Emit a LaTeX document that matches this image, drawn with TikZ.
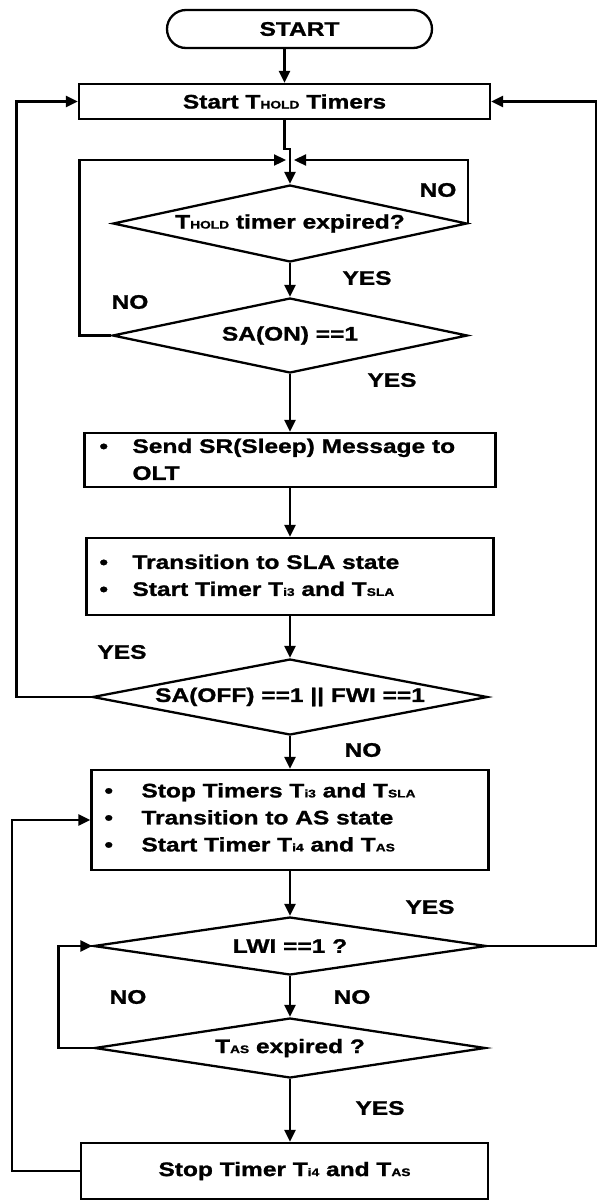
\documentclass[tikz,border=0pt]{standalone}
\usepackage{fontspec}
\setmainfont{Liberation Sans}[FakeStretch=1.25,FakeBold=1.2]
\usetikzlibrary{arrows.meta}
\usetikzlibrary{shapes.geometric}
\usetikzlibrary{positioning}

\newcommand{\sm}[1]{{\fontsize{11}{11}\selectfont #1}}
\tikzset{
  every node/.style={font=\bfseries\fontsize{19.6}{27}\selectfont},
  termin/.style={draw,rounded corners=19pt,inner sep=0pt},
  procbox/.style={draw,inner sep=0pt},
  decision/.style={draw,diamond,aspect=5,inner sep=0pt},
  yesno/.style={inner sep=0pt}
}

\begin{document}
\begin{tikzpicture}[line cap=butt,line join=miter,line width=2.3pt,>={Triangle[length=12pt,width=11pt]},x=1pt,y=-1pt]
\useasboundingbox (0,0) rectangle (598,1203);

\node[termin,minimum width=265pt,minimum height=38pt] (start) at (299.5,29) {START};
\node[procbox,minimum width=411pt,minimum height=35pt] (hold) at (284.5,101.5) {Start T\sm{HOLD} Timers};
\coordinate (mrg) at (290,160);
\coordinate (redge) at (596,0);
\node[decision,minimum width=354pt,minimum height=77pt] (expd) at (290,223.5) {T\sm{HOLD} timer expired?};
\node[decision,minimum width=355pt,minimum height=75pt] (saon) at (290,335.5) {SA(ON) ==1};
\node[procbox,minimum width=411pt,minimum height=54pt] (send) at (290,460) {};
\node[anchor=west] (txtsend) at (95,461) {\begin{tabular}{@{}p{33pt}@{}l@{}}\textbullet & Send SR(Sleep) Message to\\ & OLT\end{tabular}};
\node[procbox,minimum width=407pt,minimum height=77pt] (sla) at (290,576.5) {};
\node[anchor=west] (txtsla) at (95,577) {\begin{tabular}{@{}p{33pt}@{}l@{}}\textbullet & Transition to SLA state\\ \textbullet & Start Timer T\sm{i3} and T\sm{SLA}\end{tabular}};
\node[decision,minimum width=395pt,minimum height=76pt] (saoff) at (290,697) {SA(OFF) ==1 || FWI ==1};
\node[procbox,minimum width=397pt,minimum height=100pt] (as) at (290,820) {};
\node[anchor=west] (txtas) at (100,819) {\begin{tabular}{@{}p{37pt}@{}l@{}}\textbullet & Stop Timers T\sm{i3} and T\sm{SLA}\\ \textbullet & Transition to AS state\\ \textbullet & Start Timer T\sm{i4} and T\sm{AS}\end{tabular}};
\node[decision,minimum width=393pt,minimum height=58pt] (lwi) at (290,946) {LWI ==1 ?};
\node[decision,minimum width=391pt,minimum height=60pt] (tas) at (290,1048) {T\sm{AS} expired ?};
\node[procbox,minimum width=407pt,minimum height=56pt] (stop) at (284.5,1171) {Stop Timer T\sm{i4} and T\sm{AS}};

% branch labels
\node[yesno] (no1) at (438,190) {NO};
\node[yesno] (yes1) at (367,278) {YES};
\node[yesno] (no2) at (130,302) {NO};
\node[yesno] (yes2) at (392,380) {YES};
\node[yesno] (yes3) at (122,652) {YES};
\node[yesno] (no3) at (363,750) {NO};
\node[yesno] (yes4) at (430,907) {YES};
\node[yesno] (no4) at (128,997) {NO};
\node[yesno] (no5) at (352,997) {NO};
\node[yesno] (yes5) at (380,1108) {YES};

\draw[->] (hold.north |- start.south) -- (hold.north);
\draw (hold.south) -- ++(0,29) -| (mrg);
\draw[->] (mrg) -- (expd.north);
\draw[->] (saon.west) -- ++(-32,0) |- ([xshift=-4pt]mrg);
\draw[->] (expd.east) |- ([xshift=4pt]mrg);
\draw[->] (expd.south) -- (saon.north);
\draw[->] (saon.south) -- (send.north);
\draw[->] (send.south) -- (sla.north);
\draw[->] (sla.south) -- (saoff.north);
\draw[->] (saoff.west) -- ++(-75,0) |- (hold.west);
\draw[->] (saoff.south) -- (as.north);
\draw[->] (as.south) -- (lwi.north);
\draw[->] (lwi.east) -- (lwi.east -| redge) |- (hold.east);
\draw[->] (lwi.south) -- (tas.north);
\draw[->] (tas.west) -- ++(-35,0) |- (lwi.west);
\draw[->] (tas.south) -- (tas.south |- stop.north);
\draw[->] (stop.west) -- ++(-68,0) |- (as.west);
\end{tikzpicture}
\end{document}
